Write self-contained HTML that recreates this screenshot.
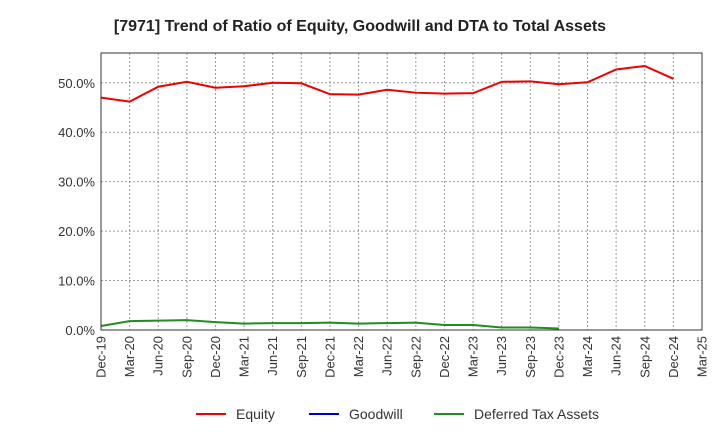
<!DOCTYPE html>
<html><head><meta charset="utf-8"><style>
body{margin:0;background:#fff;font-family:"Liberation Sans",sans-serif;}
</style></head><body>
<svg width="720" height="440" xmlns="http://www.w3.org/2000/svg" font-family="Liberation Sans, sans-serif">
<text x="360" y="31" text-anchor="middle" font-size="16" font-weight="bold" fill="#222">[7971]  Trend of Ratio of Equity, Goodwill and DTA to Total Assets</text>
<g id="grid"></g><g id="axes"></g><g id="series"></g>
<rect x="101" y="53" width="601" height="277" fill="none" stroke="#333"/>
<g>
<line x1="196" y1="414" x2="226" y2="414" stroke="#e00" stroke-width="2"/><text x="236" y="419" font-size="14" fill="#333">Equity</text>
<line x1="309" y1="414" x2="339" y2="414" stroke="#00c" stroke-width="2"/><text x="349" y="419" font-size="14" fill="#333">Goodwill</text>
<line x1="434" y1="414" x2="464" y2="414" stroke="#228b22" stroke-width="2"/><text x="474" y="419" font-size="14" fill="#333">Deferred Tax Assets</text>
</g>
</svg>
<script>
const categories=["Dec-19","Mar-20","Jun-20","Sep-20","Dec-20","Mar-21","Jun-21","Sep-21","Dec-21","Mar-22","Jun-22","Sep-22","Dec-22","Mar-23","Jun-23","Sep-23","Dec-23","Mar-24","Jun-24","Sep-24","Dec-24","Mar-25"];
const equity=[47.0,46.2,49.2,50.2,49.0,49.3,50.0,49.9,47.7,47.6,48.6,48.0,47.8,47.9,50.2,50.3,49.7,50.1,52.7,53.4,50.8];
const goodwill=[];
const dta=[0.8,1.8,1.9,2.0,1.6,1.3,1.4,1.4,1.5,1.3,1.4,1.5,1.0,1.0,0.5,0.5,0.3];
const yTicks=[0,10,20,30,40,50];
const NS="http://www.w3.org/2000/svg";
const x=i=>101+i*(601/(categories.length-1));
const y=v=>330-v*4.944;
function mk(t,a,p){const e=document.createElementNS(NS,t);for(const k in a)e.setAttribute(k,a[k]);p.appendChild(e);return e;}
const grid=document.getElementById('grid'),axes=document.getElementById('axes'),ser=document.getElementById('series');
categories.forEach((c,i)=>{
 const l=mk('line',{x1:x(i),x2:x(i),y1:53,y2:330,stroke:'#999','stroke-dasharray':'2,2'},grid);
 
 
 const t=mk('text',{transform:`translate(${x(i)+4.5},336) rotate(-90)`,'text-anchor':'end','font-size':13,fill:'#333'},axes);
 t.textContent=c;
 
 
});
yTicks.forEach(v=>{
 const l=mk('line',{x1:101,x2:702,y1:y(v),y2:y(v),stroke:'#999','stroke-dasharray':'2,2'},grid);
 
 
 const t=mk('text',{x:95,y:y(v)+5,'text-anchor':'end','font-size':13,fill:'#333'},axes);
 t.textContent=v.toFixed(1)+'%';
 
 
});
function line(d,col,name){
 if(!d.length)return;
 const p=mk('polyline',{points:d.map((v,i)=>x(i)+','+y(v)).join(' '),fill:'none',stroke:col,'stroke-width':2},ser);
 
 
}
line(equity,'#e00','equity-line');
line(goodwill,'#00c','goodwill-line');
line(dta,'#228b22','dta-line');
</script>
</body></html>
